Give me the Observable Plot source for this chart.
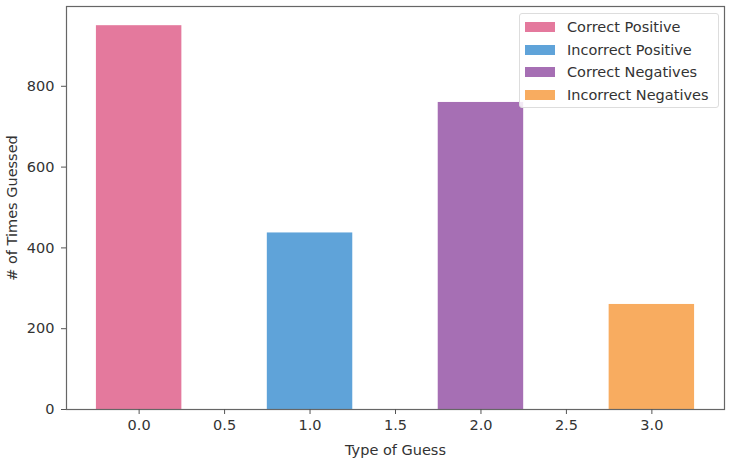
<!DOCTYPE html>
<html><head><meta charset="utf-8">
<script src="https://cdn.jsdelivr.net/npm/d3@7"></script>
<script src="https://cdn.jsdelivr.net/npm/@observablehq/plot@0.6"></script>
<style>
body{margin:0;background:#fff;font-family:"DejaVu Sans",sans-serif;}
#wrap{position:relative;width:730px;height:458px;}
.legend{position:absolute;left:519px;top:13px;width:200px;height:95px;border:1px solid #ddd;border-radius:3px;background:rgba(255,255,255,0.85);box-sizing:border-box;font-size:14.5px;color:#333;}
.legend .row{position:absolute;left:5px;height:16px;display:flex;align-items:center;}
.legend .sw{width:30px;height:10px;margin-right:12px;}
</style></head>
<body><div id="wrap"></div>
<script>
const categories = ["Correct Positive","Incorrect Positive","Correct Negatives","Incorrect Negatives"];
const positions = [0,1,2,3];
const values = [950,437,760,260];
const colors = ["#e4799d","#5fa3d9","#a66fb4","#f8ac60"];
const xTicks = [0,0.5,1,1.5,2,2.5,3];
const yTicks = [0,200,400,600,800];

const data = categories.map((c,i)=>({cat:c,x:positions[i],value:values[i]}));
const halfWidth = 0.25;

const chart = Plot.plot({
  width:730,height:458,
  marginLeft:66,marginRight:6,marginTop:6,marginBottom:49,
  style:{fontFamily:"DejaVu Sans",fontSize:"14.5px",color:"#333"},
  x:{domain:[-0.425,3.425]},
  y:{domain:[0,997.5]},
  color:{domain:categories,range:colors},
  marks:[
    Plot.rectY(data,{x1:d=>d.x-halfWidth,x2:d=>d.x+halfWidth,y1:0,y2:"value",fill:"cat",inset:0}),
    Plot.frame({stroke:"#666",strokeWidth:1.2}),
    Plot.axisX({ticks:xTicks,tickFormat:d3.format(".1f"),tickSize:5,tickPadding:5,label:"Type of Guess",labelAnchor:"center",labelArrow:"none",labelOffset:45,stroke:"#555"}),
    Plot.axisY({ticks:yTicks,tickSize:5,tickPadding:7,label:"# of Times Guessed",labelAnchor:"center",labelArrow:"none",labelOffset:60,stroke:"#555"})
  ]
});
document.getElementById("wrap").appendChild(chart);

const leg = document.createElement("div");
leg.className="legend";
categories.forEach((c,i)=>{
  const r=document.createElement("div");r.className="row";r.style.top=(5+i*22.5)+"px";
  const s=document.createElement("div");s.className="sw";s.style.background=colors[i];
  const t=document.createElement("span");t.textContent=c;
  r.appendChild(s);r.appendChild(t);leg.appendChild(r);
});
document.getElementById("wrap").appendChild(leg);
</script></body></html>
